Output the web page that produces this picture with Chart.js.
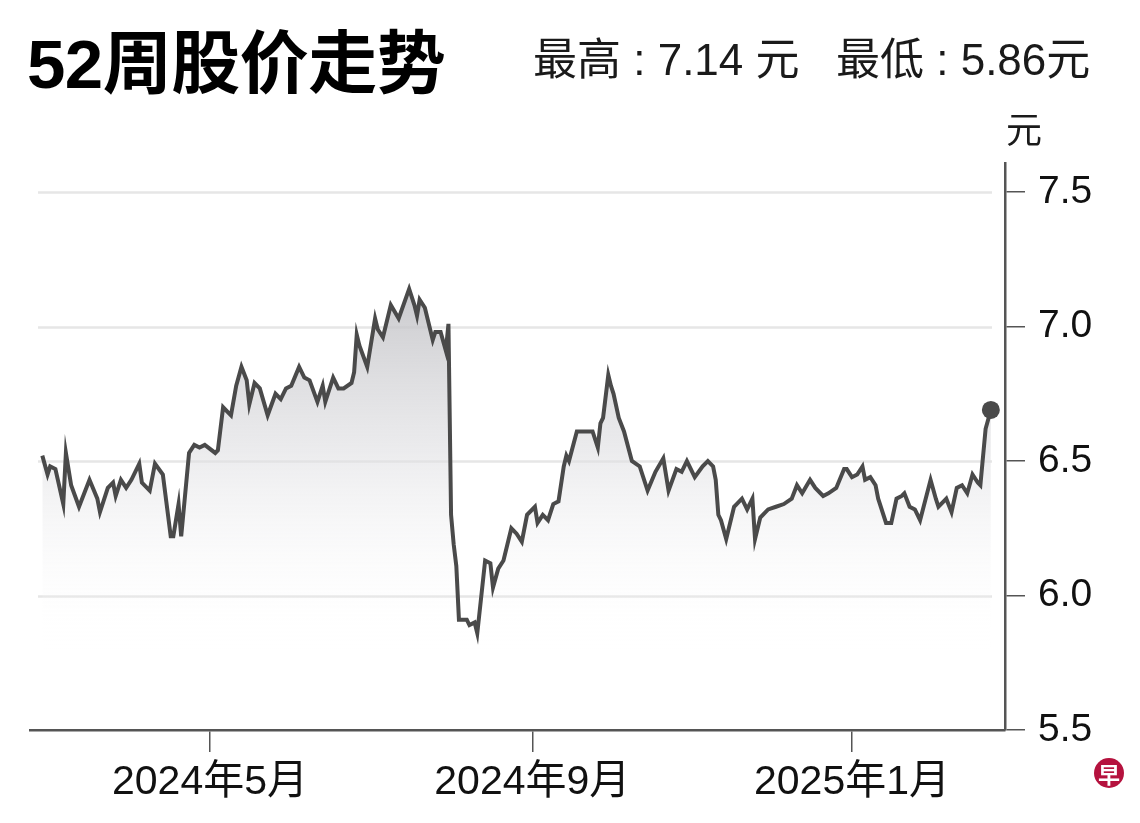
<!DOCTYPE html>
<html>
<head>
<meta charset="utf-8">
<script src="https://cdn.jsdelivr.net/npm/chart.js@4"></script>
<style>
  html, body { margin:0; padding:0; background:#fff; }
  #wrap { position:relative; width:1140px; height:823px; overflow:hidden; font-family:"Liberation Sans","Noto Sans CJK SC",sans-serif; color:#111; }
  #c { position:absolute; left:0; top:0; }
  .t { position:absolute; white-space:nowrap; line-height:1; }
  #title { left:27px; top:30px; font-size:69px; font-weight:bold; color:#000; letter-spacing:-0.5px; }
  #hi { left:533px; top:38px; font-size:44px; color:#1a1a1a; }
  #lo { left:836px; top:38px; font-size:44px; color:#1a1a1a; }
  #unit { left:1006px; top:113px; font-size:36px; color:#1a1a1a; }
  #logo { position:absolute; left:1094px; top:758px; width:30px; height:30px; border-radius:50%; background:#b5123e; color:#fff; font-size:22px; font-weight:bold; text-align:center; line-height:30px; font-family:"Noto Sans CJK SC",sans-serif; }
</style>
</head>
<body>
<div id="wrap">
  <canvas id="c" width="1140" height="823"></canvas>
  <div class="t" id="title">52周股价走势</div>
  <div class="t" id="hi">最高 : 7.14 元</div>
  <div class="t" id="lo">最低 : 5.86元</div>
  <div class="t" id="unit">元</div>
  <div id="logo">早</div>
</div>
<script>
// ---- data ----
const dates = [
 "2024-02-27","2024-02-29","2024-03-01","2024-03-03","2024-03-06","2024-03-07","2024-03-09","2024-03-12","2024-03-16","2024-03-19",
 "2024-03-20","2024-03-23","2024-03-25","2024-03-26","2024-03-28","2024-03-30","2024-04-01","2024-04-04","2024-04-05","2024-04-08",
 "2024-04-10","2024-04-13","2024-04-16","2024-04-17","2024-04-19","2024-04-20","2024-04-23","2024-04-25","2024-04-27","2024-04-29",
 "2024-05-03","2024-05-04","2024-05-06","2024-05-09","2024-05-11","2024-05-13","2024-05-15","2024-05-16","2024-05-18","2024-05-20",
 "2024-05-23","2024-05-26","2024-05-28","2024-05-30","2024-06-01","2024-06-04","2024-06-06","2024-06-08","2024-06-11","2024-06-13",
 "2024-06-14","2024-06-17","2024-06-19","2024-06-21","2024-06-24","2024-06-25","2024-06-26","2024-06-27","2024-06-30","2024-07-03",
 "2024-07-04","2024-07-06","2024-07-09","2024-07-12","2024-07-16","2024-07-18","2024-07-19","2024-07-20","2024-07-22","2024-07-25",
 "2024-07-26","2024-07-28","2024-07-30","2024-07-31","2024-08-01","2024-08-02","2024-08-03","2024-08-04","2024-08-07","2024-08-08",
 "2024-08-10","2024-08-11","2024-08-14","2024-08-16","2024-08-17","2024-08-19","2024-08-21","2024-08-24","2024-08-26","2024-08-28",
 "2024-08-30","2024-09-02","2024-09-03","2024-09-05","2024-09-07","2024-09-09","2024-09-11","2024-09-13","2024-09-14","2024-09-15",
 "2024-09-18","2024-09-24","2024-09-26","2024-09-27","2024-09-28","2024-09-30","2024-10-01","2024-10-02","2024-10-04","2024-10-06",
 "2024-10-09","2024-10-12","2024-10-15","2024-10-18","2024-10-21","2024-10-23","2024-10-26","2024-10-28","2024-10-30","2024-11-02",
 "2024-11-05","2024-11-07","2024-11-09","2024-11-10","2024-11-11","2024-11-12","2024-11-14","2024-11-17","2024-11-18","2024-11-20",
 "2024-11-22","2024-11-24","2024-11-25","2024-11-27","2024-11-30","2024-12-03","2024-12-06","2024-12-09","2024-12-11","2024-12-13",
 "2024-12-16","2024-12-18","2024-12-21","2024-12-23","2024-12-26","2024-12-29","2024-12-30","2025-01-01","2025-01-03","2025-01-05",
 "2025-01-06","2025-01-08","2025-01-10","2025-01-11","2025-01-14","2025-01-16","2025-01-18","2025-01-20","2025-01-21","2025-01-23",
 "2025-01-25","2025-01-27","2025-01-31","2025-02-02","2025-02-03","2025-02-05","2025-02-06","2025-02-08","2025-02-10","2025-02-12",
 "2025-02-14","2025-02-16","2025-02-18","2025-02-19","2025-02-21","2025-02-23"
];
const prices = [
 6.52,6.45,6.48,6.47,6.34,6.53,6.41,6.33,6.43,6.36,
 6.31,6.40,6.42,6.37,6.43,6.40,6.43,6.49,6.42,6.39,
 6.49,6.45,6.22,6.22,6.34,6.22,6.53,6.56,6.55,6.56,
 6.53,6.54,6.70,6.67,6.78,6.85,6.80,6.71,6.79,6.77,
 6.67,6.75,6.73,6.77,6.78,6.85,6.81,6.80,6.72,6.78,
 6.72,6.81,6.77,6.77,6.79,6.83,6.97,6.93,6.85,7.03,
 6.99,6.96,7.08,7.03,7.14,7.08,7.04,7.10,7.07,6.95,
 6.98,6.98,6.91,7.01,6.30,6.19,6.11,5.91,5.91,5.89,
 5.90,5.86,6.13,6.12,6.03,6.10,6.13,6.25,6.23,6.20,
 6.30,6.33,6.27,6.30,6.28,6.34,6.35,6.48,6.52,6.50,
 6.61,6.61,6.55,6.64,6.66,6.82,6.78,6.75,6.66,6.61,
 6.50,6.48,6.39,6.46,6.51,6.39,6.47,6.46,6.50,6.44,
 6.48,6.50,6.48,6.43,6.30,6.28,6.21,6.33,6.34,6.36,
 6.32,6.36,6.21,6.29,6.32,6.33,6.34,6.36,6.41,6.38,
 6.43,6.40,6.37,6.38,6.40,6.47,6.47,6.44,6.45,6.48,
 6.43,6.44,6.41,6.36,6.27,6.27,6.36,6.37,6.38,6.33,
 6.32,6.28,6.43,6.36,6.33,6.35,6.36,6.31,6.40,6.41,
 6.38,6.45,6.42,6.41,6.62,6.69
];
const xTickDates = ["2024-05-01","2024-09-01","2025-01-01"];
const xTickLabels = ["2024年5月","2024年9月","2025年1月"];
const yTicks = [5.5, 6.0, 6.5, 7.0, 7.5];
const yGridValues = [6.0, 6.5, 7.0, 7.5];

// ---- helpers ----
const BASE = Date.UTC(2024, 4, 1);
function dayNum(s) { const p = s.split("-").map(Number); return (Date.UTC(p[0], p[1]-1, p[2]) - BASE) / 86400000; }
const points = dates.map((d, i) => ({ x: dayNum(d), y: prices[i] }));
const tickDays = xTickDates.map(dayNum);

const FONT = '"Liberation Sans","Noto Sans CJK SC",sans-serif';

const gridPlugin = {
  id: 'customGrid',
  beforeDatasetsDraw(chart) {
    const ctx = chart.ctx, ys = chart.scales.y, a = chart.chartArea;
    ctx.save();
    ctx.strokeStyle = '#e6e6e6';
    ctx.lineWidth = 2.5;
    yGridValues.forEach(v => {
      const py = Math.round(ys.getPixelForValue(v)) + 0.5;
      ctx.beginPath();
      ctx.moveTo(a.left + 8, py);
      ctx.lineTo(a.right - 13, py);
      ctx.stroke();
    });
    ctx.restore();
  }
};

const ctx = document.getElementById('c').getContext('2d');
new Chart(ctx, {
  type: 'line',
  data: {
    datasets: [{
      data: points,
      borderColor: '#4a4a4a',
      borderWidth: 4,
      tension: 0,
      fill: 'start',
      backgroundColor: (c) => {
        const ch = c.chart, a = ch.chartArea;
        if (!a) return 'rgba(220,220,220,0.5)';
        const ys = ch.scales.y;
        const g = ch.ctx.createLinearGradient(0, ys.getPixelForValue(7.15), 0, ys.getPixelForValue(5.8));
        g.addColorStop(0, 'rgba(192,192,196,0.85)');
        g.addColorStop(0.45, 'rgba(222,222,225,0.6)');
        g.addColorStop(1, 'rgba(255,255,255,0)');
        return g;
      },
      pointRadius: (c) => c.dataIndex === points.length - 1 ? 9 : 0,
      pointBackgroundColor: '#4a4a4a',
      pointBorderColor: '#4a4a4a',
      pointBorderWidth: 0,
      pointHoverRadius: 0
    }]
  },
  options: {
    responsive: false,
    animation: false,
    events: [],
    layout: { padding: { left: 30, top: 163, right: 0, bottom: 0 } },
    plugins: { legend: { display: false }, tooltip: { enabled: false } },
    scales: {
      x: {
        type: 'linear',
        position: 'bottom',
        min: -68.7,
        max: 303.4,
        afterFit: (s) => { s.height = 93; },
        afterBuildTicks: (s) => { s.ticks = tickDays.map(v => ({ value: v })); },
        border: { display: true, color: '#555', width: 2.5 },
        grid: { display: true, drawOnChartArea: false, drawTicks: true, tickLength: 22, color: '#555', lineWidth: 1.5 },
        ticks: {
          padding: 6,
          color: '#111',
          font: { family: FONT, size: 41 },
          maxRotation: 0,
          autoSkip: false,
          callback: (v) => { const i = tickDays.indexOf(v); return i >= 0 ? xTickLabels[i] : ''; }
        }
      },
      y: {
        type: 'linear',
        position: 'right',
        min: 5.5,
        max: 7.608,
        afterFit: (s) => { s.width = 135; },
        afterBuildTicks: (s) => { s.ticks = yTicks.map(v => ({ value: v })); },
        border: { display: true, color: '#555', width: 2.5 },
        grid: { display: true, drawOnChartArea: false, drawTicks: true, tickLength: 20, color: '#555', lineWidth: 1.5 },
        ticks: {
          padding: 13,
          color: '#111',
          font: { family: FONT, size: 39 },
          callback: (v) => v.toFixed(1)
        }
      }
    }
  },
  plugins: [gridPlugin]
});
</script>
</body>
</html>
